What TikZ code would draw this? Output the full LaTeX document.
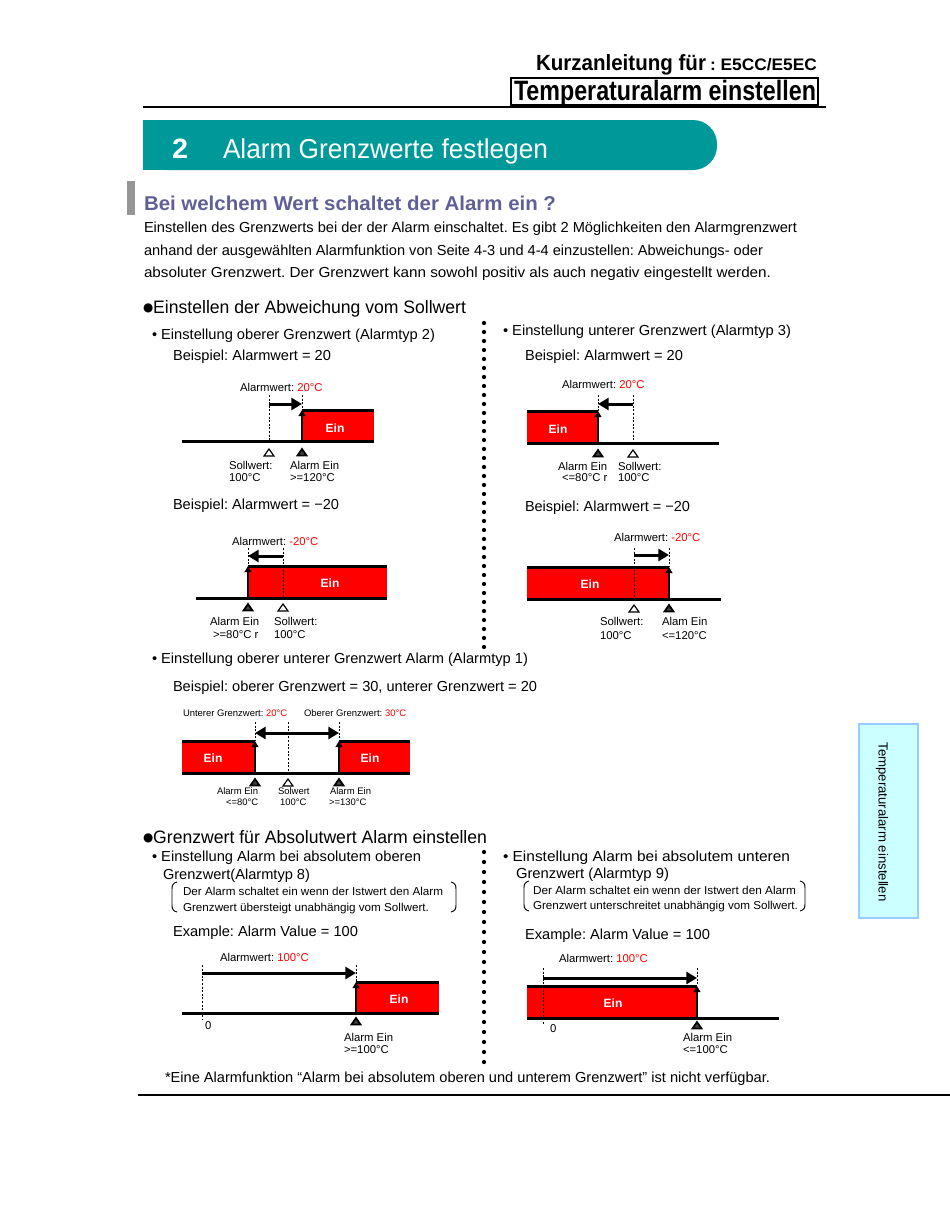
\documentclass[tikz,border=0pt]{standalone}
\usepackage{fontspec}
\setmainfont{Liberation Sans}
\newfontfamily\dejavu{DejaVu Sans}
\usepackage{graphicx}
\usetikzlibrary{arrows.meta}
\frenchspacing
\definecolor{bannerteal}{RGB}{0,153,153}
\definecolor{headblue}{RGB}{96,96,150}
\definecolor{tabfill}{RGB}{204,255,255}
\definecolor{tabdraw}{RGB}{153,204,255}
\definecolor{alarmred}{RGB}{255,0,0}
\definecolor{barGray}{RGB}{150,150,150}
\newsavebox\twbox
\newlength\twlen
\newcommand\tw[2]{\sbox\twbox{#2}\setlength\twlen{#1pt}\setlength\twlen{0.75\twlen}\resizebox{\twlen}{\ht\twbox}{\usebox\twbox}}
\newcommand\openmark[2]{\draw[line width=0.9pt, fill=white] ({#1-5},{#2+7}) -- (#1,#2) -- ({#1+5},{#2+7}) -- cycle;}
\newcommand\alarmmark[2]{\draw[line width=1.3pt, fill=black!75] ({#1-4.5},{#2+6.5}) -- (#1,#2) -- ({#1+4.5},{#2+6.5}) -- cycle;}
\newcommand\bigdot{\raisebox{1.3pt}{\dejavu\fontsize{9pt}{9pt}\selectfont ●}}
\tikzset{
 lbl/.style={anchor=base west, inner sep=0pt, outer sep=0pt},
 bodytxt/.style={lbl, font=\fontsize{10.9pt}{13pt}\selectfont},
 secttxt/.style={lbl, font=\fontsize{13.5pt}{16pt}\selectfont},
 notetxt/.style={lbl, font=\fontsize{8.6pt}{10pt}\selectfont},
 dlbl/.style={lbl, font=\fontsize{8.5pt}{10pt}\selectfont},
 dlbls/.style={lbl, font=\fontsize{7.1pt}{9pt}\selectfont},
 einlbl/.style={inner sep=0pt, text=white, font=\bfseries\fontsize{9pt}{10pt}\selectfont},
 baseln/.style={line width=2.25pt},
 dashln/.style={line width=0.6pt, dash pattern=on 1.5pt off 1.2pt},
 harrow/.style={line width=2.25pt, -{Triangle[length=8pt,width=9pt]}},
 dharrow/.style={line width=2.25pt, {Triangle[length=8pt,width=9pt]}-{Triangle[length=8pt,width=9pt]}},
 varrow/.style={line width=1.8pt, -{Triangle[length=4.5pt,width=5pt]}},
 redfill/.style={fill=alarmred},
 brack/.style={line width=0.7pt},
}
\begin{document}
\begin{tikzpicture}[x=0.75pt,y=-0.75pt]
\useasboundingbox (0,0) rectangle (950,1229);
\fill[white] (0,0) rectangle (950,1229);
% header
\node[lbl, font=\bfseries\fontsize{16.5pt}{18pt}\selectfont] (hdr1) at (536,70) {\tw{170}{Kurzanleitung für}};
\node[lbl, font=\bfseries\fontsize{12.5pt}{14pt}\selectfont] (hdr2) at (710,70) {\tw{107}{: E5CC/E5EC}};
\draw[line width=0.8pt] (511,78) rectangle (818,105);
\node[lbl, font=\bfseries\fontsize{21pt}{24pt}\selectfont] (hdr3) at (514,100) {\tw{302}{Temperaturalarm einstellen}};
\draw[line width=1.6pt] (143,107) -- (826,107);
% banner
\fill[bannerteal, rounded corners=18pt] (143,120) rectangle (717,170);
\fill[bannerteal] (143,120) rectangle (690,170);
\node[lbl, text=white, font=\bfseries\fontsize{21pt}{24pt}\selectfont] (num) at (172,158) {\tw{16}{2}};
\node[lbl, text=white, font=\fontsize{20.5pt}{24pt}\selectfont] (title) at (223,158) {\tw{325}{Alarm Grenzwerte festlegen}};
% heading
\fill[barGray] (127,181) rectangle (135,215);
\node[lbl, text=headblue, font=\bfseries\fontsize{15pt}{18pt}\selectfont] (h2) at (144,210) {\tw{412}{Bei welchem Wert schaltet der Alarm ein ?}};
\node[bodytxt] (p1) at (144,232) {\tw{653}{Einstellen des Grenzwerts bei der der Alarm einschaltet. Es gibt 2 Möglichkeiten den Alarmgrenzwert}};
\node[bodytxt] (p2) at (144,255) {\tw{619}{anhand der ausgewählten Alarmfunktion von Seite 4-3 und 4-4 einzustellen: Abweichungs- oder}};
\node[bodytxt] (p3) at (144,277) {\tw{627}{absoluter Grenzwert. Der Grenzwert kann sowohl positiv als auch negativ eingestellt werden.}};
% section 1
\node[secttxt] (s1) at (143,313) {\tw{323}{\bigdot Einstellen der Abweichung vom Sollwert}};
\node[bodytxt] (b1) at (152,339) {\tw{283}{• Einstellung oberer Grenzwert (Alarmtyp 2)}};
\node[bodytxt] (e1) at (173,360) {\tw{158}{Beispiel: Alarmwert = 20}};
\node[bodytxt] (b2) at (503,335) {\tw{288}{• Einstellung unterer Grenzwert (Alarmtyp 3)}};
\node[bodytxt] (e2) at (525,360) {\tw{158}{Beispiel: Alarmwert = 20}};
\node[bodytxt] (e3) at (173,509) {\tw{166}{Beispiel: Alarmwert = −20}};
\node[bodytxt] (e4) at (525,511) {\tw{165}{Beispiel: Alarmwert = −20}};
\node[bodytxt] (b3) at (152,663) {\tw{376}{• Einstellung oberer unterer Grenzwert Alarm (Alarmtyp 1)}};
\node[bodytxt] (e5) at (173,691) {\tw{364}{Beispiel: oberer Grenzwert = 30, unterer Grenzwert = 20}};
% dotted separators
\foreach \i in {0,...,36} \fill (484,{323+9*\i}) circle (1.6pt);
\foreach \i in {0,...,21} \fill (484,{852+10*\i}) circle (1.6pt);
% D1
\fill[redfill] (302,410) rectangle (374,441);
\draw[baseln] (182,441) -- (374,441);
\draw[baseln] (302,410) -- (374,410);
\draw[dashln] (269,395) -- (269,441);
\draw[dashln] (302,395) -- (302,410);
\draw[varrow] (302,441) -- (302,410);
\draw[harrow] (269,404) -- (302,404);
\node[einlbl] (ein1) at (335,428) {Ein};
\node[dlbl] (aw1) at (240,391) {Alarmwert: {\color{alarmred}20°C}};
\openmark{269}{449}
\alarmmark{302}{449}
\node[dlbl] (sw1) at (229,469) {Sollwert:};
\node[dlbl] (sw1b) at (229,481) {100°C};
\node[dlbl] (ae1) at (290,469) {Alarm Ein};
\node[dlbl] (ae1b) at (290,481) {>=120°C};
% D2
\fill[redfill] (527,411) rectangle (598,443);
\draw[baseln] (527,443) -- (719,443);
\draw[baseln] (527,411) -- (598,411);
\draw[dashln] (598,395) -- (598,411);
\draw[dashln] (633,395) -- (633,443);
\draw[varrow] (598,443) -- (598,411);
\draw[harrow] (633,404) -- (598,404);
\node[einlbl] (ein2) at (558,429) {Ein};
\node[dlbl] (aw2) at (562,388) {Alarmwert: {\color{alarmred}20°C}};
\alarmmark{598}{450}
\openmark{633}{450}
\node[dlbl] (ae2) at (558,470) {Alarm Ein};
\node[dlbl] (ae2b) at (562,481) {<=80°C r};
\node[dlbl] (sw2) at (618,470) {Sollwert:};
\node[dlbl] (sw2b) at (618,481) {100°C};
% D3
\fill[redfill] (248,566) rectangle (387,598);
\draw[baseln] (196,598) -- (387,598);
\draw[baseln] (248,566) -- (387,566);
\draw[dashln] (248,548) -- (248,566);
\draw[dashln] (283,548) -- (283,598);
\draw[varrow] (248,598) -- (248,566);
\draw[harrow] (283,556) -- (248,556);
\node[einlbl] (ein3) at (330,583) {Ein};
\node[dlbl] (aw3) at (232,545) {Alarmwert: {\color{alarmred}-20°C}};
\alarmmark{248}{604}
\openmark{283}{604}
\node[dlbl] (ae3) at (210,625) {Alarm Ein};
\node[dlbl] (ae3b) at (213,638) {>=80°C r};
\node[dlbl] (sw3) at (274,625) {Sollwert:};
\node[dlbl] (sw3b) at (274,638) {100°C};
% D4
\fill[redfill] (527,567) rectangle (669,599);
\draw[baseln] (527,599) -- (721,599);
\draw[baseln] (527,567) -- (669,567);
\draw[dashln] (634,548) -- (634,599);
\draw[dashln] (669,548) -- (669,567);
\draw[varrow] (669,599) -- (669,567);
\draw[harrow] (634,555) -- (669,555);
\node[einlbl] (ein4) at (590,584) {Ein};
\node[dlbl] (aw4) at (614,541) {Alarmwert: {\color{alarmred}-20°C}};
\openmark{634}{605}
\alarmmark{669}{605}
\node[dlbl] (sw4) at (600,625) {Sollwert:};
\node[dlbl] (sw4b) at (600,639) {100°C};
\node[dlbl] (ae4) at (662,625) {Alam Ein};
\node[dlbl] (ae4b) at (662,639) {<=120°C};
% D5
\fill[redfill] (182,741) rectangle (255,773);
\fill[redfill] (339,741) rectangle (410,773);
\draw[baseln] (182,773) -- (410,773);
\draw[baseln] (182,741) -- (255,741);
\draw[baseln] (339,741) -- (410,741);
\draw[dashln] (255,722) -- (255,741);
\draw[dashln] (288,722) -- (288,773);
\draw[dashln] (339,722) -- (339,741);
\draw[varrow] (255,773) -- (255,741);
\draw[varrow] (339,773) -- (339,741);
\draw[dharrow] (255,733) -- (339,733);
\node[einlbl] (ein5) at (213,758) {Ein};
\node[einlbl] (ein6) at (370,758) {Ein};
\node[dlbls] (ug) at (183,716) {Unterer Grenzwert: {\color{alarmred}20°C}};
\node[dlbls] (og) at (304,716) {Oberer Grenzwert: {\color{alarmred}30°C}};
\alarmmark{255}{779}
\openmark{288}{779}
\alarmmark{339}{779}
\node[dlbls] (ae5) at (217,794) {Alarm Ein};
\node[dlbls] (ae5b) at (226,805) {<=80°C};
\node[dlbls] (sw5) at (278,794) {Solwert};
\node[dlbls] (sw5b) at (280,805) {100°C};
\node[dlbls] (ae6) at (330,794) {Alarm Ein};
\node[dlbls] (ae6b) at (329,805) {>=130°C};
% side tab
\filldraw[fill=tabfill, draw=tabdraw, line width=1.2pt] (859,724) rectangle (918,918);
\node[rotate=-90, inner sep=0pt, font=\fontsize{9.9pt}{12pt}\selectfont] (tab) at (882,822) {Temperaturalarm einstellen};
% section 2
\node[secttxt] (s2) at (143,843) {\tw{344}{\bigdot Grenzwert für Absolutwert Alarm einstellen}};
\node[bodytxt] (b4) at (152,861) {\tw{269}{• Einstellung Alarm bei absolutem oberen}};
\node[bodytxt] (b4b) at (163,879) {\tw{147}{Grenzwert(Alarmtyp 8)}};
\node[notetxt] (n1) at (183,895) {\tw{260}{Der Alarm schaltet ein wenn der Istwert den Alarm}};
\node[notetxt] (n2) at (183,911) {\tw{246}{Grenzwert übersteigt unabhängig vom Sollwert.}};
\draw[brack] (177,882) .. controls (173,883) and (172,885) .. (172,889) -- (172,905) .. controls (172,909) and (173,911) .. (177,912);
\draw[brack] (451,882) .. controls (455,883) and (456,885) .. (456,889) -- (456,905) .. controls (456,909) and (455,911) .. (451,912);
\node[bodytxt] (e6) at (173,936) {\tw{185}{Example: Alarm Value = 100}};
\node[bodytxt] (b5) at (503,861) {\tw{287}{• Einstellung Alarm bei absolutem unteren}};
\node[bodytxt] (b5b) at (516,878) {\tw{153}{Grenzwert (Alarmtyp 9)}};
\node[notetxt] (n3) at (533,894) {\tw{263}{Der Alarm schaltet ein wenn der Istwert den Alarm}};
\node[notetxt] (n4) at (533,909) {\tw{265}{Grenzwert unterschreitet unabhängig vom Sollwert.}};
\draw[brack] (529,881) .. controls (525,882) and (524,884) .. (524,888) -- (524,904) .. controls (524,908) and (525,910) .. (529,911);
\draw[brack] (800,881) .. controls (804,882) and (805,884) .. (805,888) -- (805,904) .. controls (805,908) and (804,910) .. (800,911);
\node[bodytxt] (e7) at (525,939) {\tw{185}{Example: Alarm Value = 100}};
% D7
\fill[redfill] (356,982) rectangle (439,1013);
\draw[baseln] (182,1013) -- (439,1013);
\draw[baseln] (356,982) -- (439,982);
\draw[dashln] (202,965) -- (202,1020);
\draw[dashln] (356,965) -- (356,982);
\draw[varrow] (356,1013) -- (356,982);
\draw[harrow] (202,973) -- (356,973);
\node[einlbl] (ein7) at (399,999) {Ein};
\node[dlbl] (aw7) at (220,961) {Alarmwert: {\color{alarmred}100°C}};
\node[dlbl] (z7) at (205,1029) {0};
\alarmmark{356}{1018}
\node[dlbl] (ae7) at (344,1041) {Alarm Ein};
\node[dlbl] (ae7b) at (344,1053) {>=100°C};
% D8
\fill[redfill] (527,986) rectangle (697,1018);
\draw[baseln] (527,1018) -- (779,1018);
\draw[baseln] (527,986) -- (697,986);
\draw[dashln] (543,968) -- (543,1025);
\draw[dashln] (697,968) -- (697,986);
\draw[varrow] (697,1018) -- (697,986);
\draw[harrow] (543,978) -- (697,978);
\node[einlbl] (ein8) at (613,1003) {Ein};
\node[dlbl] (aw8) at (559,962) {Alarmwert: {\color{alarmred}100°C}};
\node[dlbl] (z8) at (550,1032) {0};
\alarmmark{697}{1022}
\node[dlbl] (ae8) at (683,1041) {Alarm Ein};
\node[dlbl] (ae8b) at (683,1053) {<=100°C};
% footnote
\node[bodytxt] (fn) at (165,1082) {\tw{605}{*Eine Alarmfunktion “Alarm bei absolutem oberen und unterem Grenzwert” ist nicht verfügbar.}};
\draw[line width=1pt] (138,1095) -- (950,1095);
\end{tikzpicture}
\end{document}
